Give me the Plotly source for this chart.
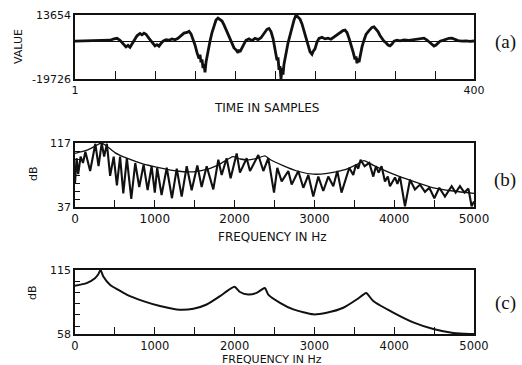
import plotly.graph_objects as go

# ---------------- data ----------------
# (a) speech waveform
wave_t = [1, 10, 20, 30, 36, 40, 43, 46, 49, 52, 54, 56, 58, 60, 63, 66, 68, 70, 72, 75, 77, 79, 81, 83, 85,
          87, 89, 92, 95, 98, 101, 104, 107, 110, 113, 115, 117, 119, 121, 123, 125, 126, 127, 128, 129, 130,
          131, 132, 133, 134, 136, 138, 140, 142, 144, 146, 148, 150, 152, 154, 156, 158, 160, 162, 164, 165,
          166, 168, 170, 172, 175, 178, 181, 184, 187, 189, 191, 193, 195, 197, 199, 201, 203, 204, 205, 206,
          207, 208, 209, 210, 212, 214, 216, 218, 220, 222, 224, 226, 228, 230, 232, 234, 236, 238, 239, 241,
          243, 245, 248, 251, 254, 257, 260, 263, 266, 269, 271, 273, 275, 277, 279, 281, 282, 283, 284, 285,
          286, 288, 290, 292, 295, 298, 300, 302, 304, 306, 308, 310, 312, 314, 316, 318, 320, 323, 326, 330,
          335, 340, 345, 348, 350, 353, 356, 358, 360, 362, 364, 366, 369, 372, 375, 378, 381, 384, 388, 392,
          396, 400]
wave_v = [0, 200, 100, 300, 500, 1200, 1500, 500, -1500, -3000, -2200, -3200, -1500, 0, 2800, 4000, 3300, 4200,
          3600, 1500, 0, -1500, -2500, -1800, -2600, -1200, 0, 800, 500, 1200, 700, 1500, 3000, 4200, 4600, 5200,
          3800, 1000, -2000, -6000, -9000, -7000, -11000, -9500, -14000, -12000, -16200, -11000, -8000, -4000, 0,
          4500, 8500, 11000, 12000, 11200, 10500, 8500, 6000, 3500, 800, -1500, -3500, -4500, -6000, -4500, -5600,
          -3500, -1000, 500, 1200, 300, 1500, 800, 1800, 3500, 5000, 6200, 6600, 5000, 1500, -4000, -10000, -8500,
          -15000, -13000, -19726, -14000, -17500, -12000, -6000, -1000, 3000, 7500, 11000, 13654, 12800, 11500,
          9000, 5500, 1500, -2500, -5500, -6800, -5500, -4000, -500, 1500, 2000, 1200, 1600, 1000, 2200, 3200,
          4500, 5500, 5800, 4500, 1500, -1500, -5500, -9500, -8000, -11500, -9000, -11000, -8000, -3000, 500, 3500,
          5500, 7200, 7500, 6500, 5000, 3000, 1200, 0, -800, -2000, -2400, -1500, 0, 500, 200, 700, 400, 800, 1200,
          1800, 1600, 600, -800, -1800, -2500, -2000, -800, 0, 400, 1000, 1500, 1600, 900, 300, 0, 200, -100, 100]

# (b) harmonic spectrum (dB) and smooth envelope
spec_f = [0, 20, 40, 70, 100, 130, 190, 255, 295, 335, 365, 400, 440, 485, 525, 565, 605, 650, 705, 755, 805,
          860, 910, 960, 1000, 1030, 1085, 1150, 1215, 1275, 1337, 1400, 1462, 1533, 1587, 1650, 1733, 1796,
          1838, 1900, 1950, 2026, 2067, 2151, 2193, 2297, 2360, 2422, 2494, 2535, 2590, 2673, 2715, 2798, 2861,
          2924, 2986, 3049, 3111, 3174, 3237, 3287, 3340, 3437, 3487, 3521, 3550, 3579, 3629, 3688, 3738, 3771,
          3805, 3842, 3884, 3920, 3947, 4010, 4040, 4072, 4135, 4198, 4260, 4323, 4386, 4440, 4503, 4565, 4636,
          4720, 4770, 4824, 4880, 4930, 4970, 5000]
spec_db = [66, 98, 78, 100, 92, 106, 82, 116, 88, 117, 100, 116, 76, 100, 64, 100, 54, 98, 47, 92, 62, 90, 58,
           88, 55, 86, 52, 86, 48, 85, 50, 88, 58, 89, 62, 88, 59, 96, 77, 98, 73, 104, 80, 98, 82, 102, 82, 98,
           55, 86, 69, 82, 65, 82, 61, 77, 50, 75, 57, 75, 63, 82, 55, 86, 77, 90, 85, 96, 88, 92, 75, 88, 80,
           88, 69, 75, 63, 74, 66, 75, 38, 71, 59, 65, 56, 61, 48, 61, 50, 63, 55, 63, 55, 60, 38, 44]
env_f = [0, 150, 250, 330, 400, 500, 650, 850, 1065, 1274, 1483, 1650, 1820, 1980, 2070, 2180, 2290, 2380,
         2450, 2600, 2780, 2990, 3160, 3360, 3530, 3620, 3740, 3990, 4240, 4490, 4740, 5000]
env_db = [104, 108, 113, 117, 113, 105, 98, 91, 86, 82, 81, 84, 91, 100, 97, 96, 98, 101, 96, 89, 82, 78, 79,
          83, 90, 95, 89, 78, 69, 61, 57, 54]

# (c) model spectrum (dB)
mod_f = [0, 146, 250, 290, 320, 355, 438, 550, 647, 856, 1065, 1274, 1483, 1650, 1817, 1930, 2000, 2067, 2171,
         2276, 2340, 2380, 2422, 2569, 2736, 2986, 3154, 3362, 3529, 3613, 3650, 3738, 3988, 4239, 4490, 4740,
         4950, 5000]
mod_db = [101, 103.3, 107.7, 111, 115, 109.2, 101.9, 97, 93.1, 87.3, 82.9, 79.9, 80.5, 84.3, 91.7, 97.5, 100,
          95.4, 93.1, 94.6, 97.5, 99, 93.1, 85.8, 79.9, 75.5, 77, 81.4, 88.7, 93.1, 94.5, 87.3, 77, 68.3, 62.4,
          58.9, 58, 58]

# tick labels
a_xticks = list(range(1, 400, 40)) + [400]
a_xtext = ["1"] + [""] * (len(a_xticks) - 2) + ["400"]
f_ticks = list(range(0, 5001, 500))
f_text = [str(v) if v % 1000 == 0 else "" for v in f_ticks]
b_yticks = [37, 47, 57, 67, 77, 87, 97, 107, 117]
c_yticks = [58, 65, 75, 85, 95, 105, 115]

# ---------------- figure ----------------
W, H = 522, 365
INK = "#111111"
FONT = "DejaVu Sans"

def py(px):
    return 1 - px / H

xdom = [75 / W, 474 / W]
fig = go.Figure()
fig.add_trace(go.Scatter(x=wave_t, y=wave_v, mode="lines", line=dict(color=INK, width=2.8),
                         xaxis="x", yaxis="y", showlegend=False))
fig.add_trace(go.Scatter(x=spec_f, y=spec_db, mode="lines", line=dict(color=INK, width=2.1),
                         xaxis="x2", yaxis="y2", showlegend=False))
fig.add_trace(go.Scatter(x=env_f, y=env_db, mode="lines", line=dict(color=INK, width=1.3, shape="spline", smoothing=0.6),
                         xaxis="x2", yaxis="y2", showlegend=False))
fig.add_trace(go.Scatter(x=mod_f, y=mod_db, mode="lines", line=dict(color=INK, width=2, shape="spline", smoothing=0.6),
                         xaxis="x3", yaxis="y3", showlegend=False))

common = dict(showline=True, linecolor=INK, linewidth=1.5, mirror=True, showgrid=False, automargin=False,
              tickfont=dict(family=FONT, size=11, color=INK), tickcolor=INK, tickwidth=1.2)
freqx = dict(common, tickfont=dict(family=FONT, size=12, color=INK))
freqx3 = dict(common, tickfont=dict(family=FONT, size=11.5, color=INK))

fig.update_layout(
    template="none",
    width=W, height=H, margin=dict(l=0, r=0, t=0, b=0, pad=0), autosize=False,
    paper_bgcolor="white", plot_bgcolor="white",
    xaxis=dict(domain=xdom, anchor="y", range=[1, 400], tickmode="array", tickvals=a_xticks,
               ticktext=a_xtext, ticks="inside", ticklen=8, zeroline=False, **common),
    yaxis=dict(domain=[py(79), py(15)], anchor="x", range=[-19726, 13654], tickmode="array",
               tickvals=[-19726, 13654], ticktext=["-19726", "13654"], ticks="",
               zeroline=True, zerolinecolor=INK, zerolinewidth=1.4, **common),
    xaxis2=dict(domain=xdom, anchor="y2", range=[0, 5000], tickmode="array", tickvals=f_ticks,
                ticktext=f_text, ticks="inside", ticklen=7, zeroline=False, **freqx),
    yaxis2=dict(domain=[py(207), py(143)], anchor="x2", range=[37, 117], tickmode="array",
                tickvals=b_yticks, ticktext=["37"] + [""] * 7 + ["117"], ticks="inside", ticklen=5,
                zeroline=False, **common),
    xaxis3=dict(domain=xdom, anchor="y3", range=[0, 5000], tickmode="array", tickvals=f_ticks,
                ticktext=f_text, ticks="inside", ticklen=7, zeroline=False, **freqx3),
    yaxis3=dict(domain=[py(334), py(270)], anchor="x3", range=[58, 115], tickmode="array",
                tickvals=c_yticks, ticktext=["58"] + [""] * 5 + ["115"], ticks="inside", ticklen=5,
                zeroline=False, **common),
)

def label(text, x, y, size=12, angle=0, family=FONT):
    fig.add_annotation(text=text, x=x / W, y=py(y), xref="paper", yref="paper", showarrow=False,
                       textangle=angle, font=dict(family=family, size=size, color=INK),
                       xanchor="center", yanchor="middle")

label("VALUE", 18, 47, size=11, angle=-90)
label("TIME IN SAMPLES", 266, 108)
label("dB", 33, 174, size=11, angle=-90)
label("FREQUENCY IN Hz", 272, 237)
label("dB", 32, 293, size=11, angle=-90)
label("FREQUENCY IN Hz", 272, 359.5, size=11)
label("(a)", 505, 42, size=19, family="Liberation Serif")
label("(b)", 505, 180, size=19, family="Liberation Serif")
label("(c)", 505, 303, size=19, family="Liberation Serif")

fig.write_html("out.html")
